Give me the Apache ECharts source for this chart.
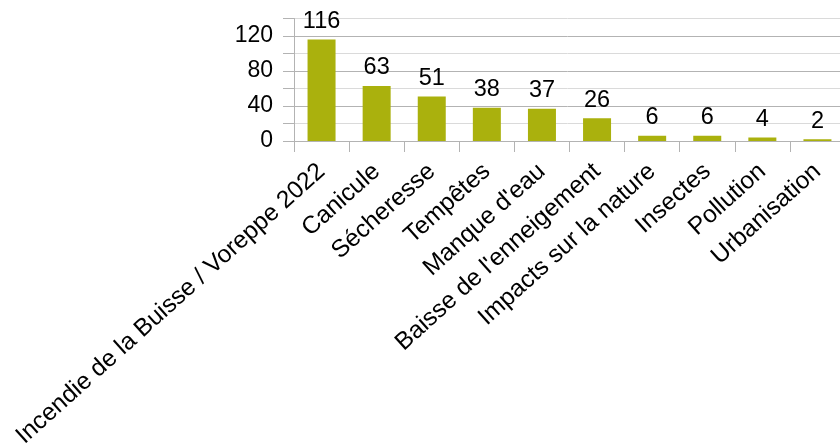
<!DOCTYPE html>
<html>
<head>
<meta charset="utf-8">
<script src="https://cdn.jsdelivr.net/npm/echarts@6/dist/echarts.min.js"></script>
<style>
  html, body { margin: 0; padding: 0; background: #fff; }
  #chart { width: 840px; height: 446px; }
</style>
</head>
<body>
<div id="chart"></div>
<script>
// Causes of concern, number of responses
const categories = [
  'Incendie de la Buisse / Voreppe 2022',
  'Canicule',
  'Sécheresse',
  'Tempêtes',
  "Manque d'eau",
  "Baisse de l'enneigement",
  'Impacts sur la nature',
  'Insectes',
  'Pollution',
  'Urbanisation'
];
const counts = [116, 63, 51, 38, 37, 26, 6, 6, 4, 2];
const yTickLabels = [0, 40, 80, 120];

const FONT = '"Liberation Sans", Arial, sans-serif';
const AXIS_GREY = '#b3b3b3';

const chart = echarts.init(document.getElementById('chart'), null, { renderer: 'canvas' });

chart.setOption({
  animation: false,
  backgroundColor: '#ffffff',
  grid: {
    left: 294,
    right: -5,
    top: 18.5,
    bottom: 305,
    containLabel: false,
    outerBoundsMode: 'none'
  },
  xAxis: {
    type: 'category',
    data: categories,
    axisLine: { show: true, lineStyle: { color: AXIS_GREY, width: 1 } },
    axisTick: { show: true, length: 11, lineStyle: { color: AXIS_GREY } },
    axisLabel: {
      interval: 0,
      rotate: 42,
      margin: 27,
      padding: [33, 0, 0, 0],
      color: '#000',
      fontFamily: FONT,
      fontSize: 24.5,
      hideOverlap: false
    },
    splitLine: { show: false }
  },
  yAxis: {
    type: 'value',
    min: 0,
    max: 140,
    interval: 20,
    axisLine: { show: true, lineStyle: { color: AXIS_GREY, width: 1 } },
    axisTick: { show: true, length: 11, lineStyle: { color: AXIS_GREY } },
    axisLabel: {
      margin: 21,
      color: '#000',
      fontFamily: FONT,
      fontSize: 23,
      formatter: function (v) {
        return yTickLabels.indexOf(v) >= 0 ? String(v) : '';
      }
    },
    splitLine: {
      show: true,
      lineStyle: { color: [AXIS_GREY, '#dadada'], width: 1 }
    }
  },
  series: [{
    type: 'bar',
    data: counts,
    barWidth: 28,
    itemStyle: { color: '#aab10d' },
    label: {
      show: true,
      position: 'top',
      distance: 6,
      color: '#000',
      fontFamily: FONT,
      fontSize: 23.5
    }
  }]
});
</script>
</body>
</html>
